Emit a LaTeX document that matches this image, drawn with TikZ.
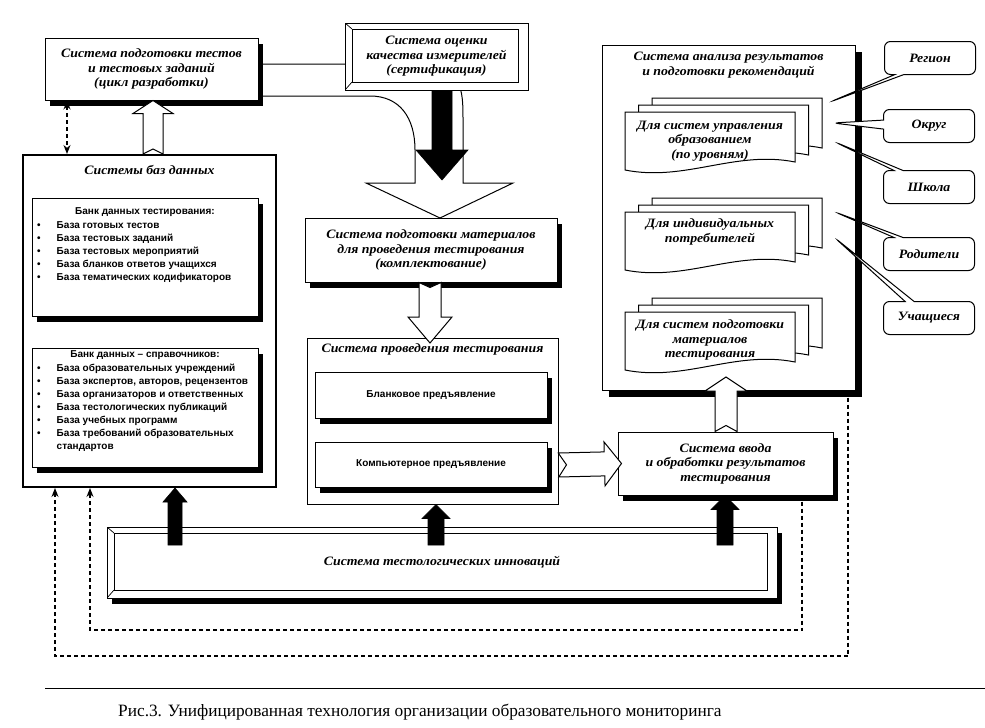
\documentclass[tikz,border=0pt]{standalone}
\usepackage{fontspec}
\setmainfont{Liberation Serif}
\newfontfamily\lblfont[FakeStretch=1.08]{Liberation Serif}
\newfontfamily\sansf{Liberation Sans}
\usetikzlibrary{calc,shadows,shapes.callouts,arrows.meta,backgrounds}

\newcommand{\lbl}{\lblfont\bfseries\itshape\fontsize{12.8}{14.5}\selectfont}
\newcommand{\lst}{\sansf\bfseries\fontsize{10}{13}\selectfont}
% block arrow: [style]{tail}{tip}{half shaft}{half head}{head length}{notch}
\newcommand{\barr}[7][]{%
  \path ($(#3)!#6!(#2)$) coordinate (hb) ($(#2)!#7!(#3)$) coordinate (nt);
  \draw[#1] ($(#2)!#4!90:(#3)$) -- ($(hb)!#4!90:(#3)$) -- ($(hb)!#5!90:(#3)$) -- (#3)
    -- ($(hb)!#5!-90:(#3)$) -- ($(hb)!#4!-90:(#3)$) -- ($(#2)!#4!-90:(#3)$) -- (nt) -- cycle;}

\tikzset{
  box/.style={draw, fill=white, line width=1pt, inner sep=0pt, align=center, font=\lbl},
  ttl/.style={inner sep=0pt, align=center, font=\lbl},
  shad/.style={drop shadow={shadow xshift=5pt, shadow yshift=-6pt, opacity=1, fill=black}},
  bevel/.style={path picture={
    \fill ([xshift=-10pt,yshift=-6pt]path picture bounding box.north east) -- (path picture bounding box.north east)
      -- (path picture bounding box.south east) -- ([xshift=-10pt,yshift=8pt]path picture bounding box.south east) -- cycle;
    \draw[line width=.7pt] ([xshift=7pt,yshift=-6pt]path picture bounding box.north west) rectangle ([xshift=-10pt,yshift=8pt]path picture bounding box.south east);
    \draw[line width=.7pt] (path picture bounding box.north west) -- ++(7pt,-6pt)
      (path picture bounding box.south west) -- ++(7pt,8pt);}},
  harrow/.style={draw, fill=white, line width=1pt},
  karrow/.style={draw, fill=black, line width=.6pt},
  dsh/.style={line width=1.3pt, dash pattern=on 4pt off 3pt},
  call/.style={rectangle callout, draw, fill=white, line width=1pt, rounded corners=6pt,
    minimum width=91pt, minimum height=33pt, font=\lbl, callout pointer width=9pt},
  docstack/.pic={
    \foreach \d in {2,1,0}
      \draw[fill=white, line width=1pt, shift={(13.5*\d,-7*\d)}] (0,0) -- (170,0) -- (170,50)
        .. controls (110,38) and (60,70) .. (0,58) -- cycle;}
}

\begin{document}
\begin{tikzpicture}[x=1pt,y=-1pt]
\useasboundingbox (0,0) rectangle (985,728);

% top row
\node[box, shad, minimum width=213pt, minimum height=62pt] (razrab) at (151.5,69) {Система подготовки тестов\\и тестовых заданий\\(цикл разработки)};
\node[box, bevel, minimum width=183pt, minimum height=67pt] (ocenka) at (436.5,56.5) {Система оценки\\качества измерителей\\(сертификация)};
\begin{scope}[on background layer]
\draw[harrow] ([yshift=5pt]razrab.east) -- (415,64) .. controls (463,64) and (463,90) .. (463,120) -- (463,183)
  -- (513,183) -- (440,218) -- (366,183) -- (415,183) -- (415,150) .. controls (415,118) and (400,96) .. (370,96)
  -- (razrab.east |- 0,96) -- cycle;
\end{scope}
\coordinate (k0t) at (ocenka.south -| 442,0);
\coordinate (k0p) at (442,180);
\barr[karrow]{k0t}{k0p}{10pt}{26pt}{30pt}{0pt}

% databases
\node[box, line width=2pt, minimum width=253pt, minimum height=332pt] (bazy) at (149.5,321) {};
\node[ttl] at (bazy.north |- 0,170) {Системы баз данных};
\node[box, shad, minimum width=226pt, minimum height=118pt] (bank1) at (145,257) {};
\node[font=\lst, inner sep=0pt] at (bank1.north |- 0,212) {Банк данных тестирования:};
\node[font=\lst, anchor=north west, inner sep=0pt] (spis1) at (37,219) {\begin{tabular}{@{}l@{\hspace{16pt}}l@{}}
 \textbullet & База готовых тестов\\
 \textbullet & База тестовых заданий\\
 \textbullet & База тестовых мероприятий\\
 \textbullet & База бланков ответов учащихся\\
 \textbullet & База тематических кодификаторов
\end{tabular}};
\node[box, shad, minimum width=226pt, minimum height=119pt] (bank2) at (145,407.5) {};
\node[font=\lst, inner sep=0pt] at (bank2.north |- 0,355) {Банк данных – справочников:};
\node[font=\lst, anchor=north west, inner sep=0pt] (spis2) at (37,362) {\begin{tabular}{@{}l@{\hspace{16pt}}l@{}}
 \textbullet & База образовательных учреждений\\
 \textbullet & База экспертов, авторов, рецензентов\\
 \textbullet & База организаторов и ответственных\\
 \textbullet & База тестологических публикаций\\
 \textbullet & База учебных программ\\
 \textbullet & База требований образовательных\\
  & стандартов
\end{tabular}};
\coordinate (h1t) at (bazy.north -| 153,0);
\coordinate (h1p) at (razrab.south -| 153,0);
\barr[harrow]{h1t}{h1p}{10pt}{20pt}{13pt}{5pt}
\draw[dsh, {Stealth[length=9pt,width=7pt]}-{Stealth[length=9pt,width=7pt]}] (razrab.south -| 67,0) -- (bazy.north -| 67,0);

% middle column
\node[box, shad, minimum width=252pt, minimum height=64pt] (komplekt) at (431,250) {Система подготовки материалов\\для проведения тестирования\\(комплектование)};
\node[box, minimum width=251pt, minimum height=166pt] (proved) at (432.5,421) {};
\node[ttl] at (proved.north |- 0,349) {Система проведения тестирования};
\node[box, shad, font=\lst, minimum width=232pt, minimum height=46pt] (blank) at (431,395) {Бланковое предъявление};
\node[box, shad, font=\lst, minimum width=232pt, minimum height=45pt] (komp) at (431,464.5) {Компьютерное предъявление};
\coordinate (h2t) at (komplekt.south -| 430,0);
\coordinate (h2p) at (430,343);
\barr[harrow]{h2t}{h2p}{11pt}{22pt}{26pt}{5pt}

% right column
\node[box, shad, minimum width=215pt, minimum height=63pt] (vvod) at (725.5,463.5) {Система ввода\\и обработки результатов\\тестирования};
\coordinate (h3t) at (proved.east |- 0,465);
\coordinate (h3p) at ([xshift=4pt]vvod.west);
\barr[harrow]{h3t}{h3p}{12pt}{22pt}{17pt}{8pt}
\node[box, drop shadow={shadow xshift=7pt, shadow yshift=-7pt, opacity=1, fill=black}, minimum width=253pt, minimum height=345pt] (analiz) at (728.5,217.5) {};
\node[ttl] at (analiz.north |- 0,65) {Система анализа результатов\\и подготовки рекомендаций};
\pic at (625,112) {docstack};
\pic at (625,212) {docstack};
\pic at (625,312) {docstack};
\node[ttl] (upr) at (710,141) {Для систем управления\\образованием\\(по уровням)};
\node[ttl] (indiv) at (710,232) {Для индивидуальных\\потребителей};
\node[ttl] (podg) at (710,340) {Для систем подготовки\\материалов\\тестирования};
\coordinate (h4t) at (vvod.north -| 726,0);
\coordinate (h4p) at (726,377);
\barr[harrow]{h4t}{h4p}{11pt}{21pt}{14pt}{6pt}

% consumers
\coordinate (tReg) at (830,102);
\coordinate (tOkr) at (833,123);
\coordinate (tShk) at (835,142);
\coordinate (tRod) at (835,212);
\coordinate (tUch) at (835,238);
\node[call, callout absolute pointer={(tReg)}] (reg) at (930,58) {Регион};
\node[call, callout absolute pointer={(tOkr)}] (okr) at (929,126) {Округ};
\node[call, callout absolute pointer={(tShk)}] (shk) at (929,187) {Школа};
\node[call, callout absolute pointer={(tRod)}] (rod) at (929,254) {Родители};
\node[call, callout absolute pointer={(tUch)}] (uch) at (929,318) {Учащиеся};

% innovations
\node[box, bevel, shad, minimum width=670pt, minimum height=71pt] (innov) at (442,562.5) {Система тестологических инноваций};
\coordinate (k1t) at (175,545);
\coordinate (k1p) at (bazy.south -| 175,0);
\coordinate (k2t) at (436,545);
\coordinate (k2p) at (proved.south -| 436,0);
\coordinate (k3t) at (725,545);
\coordinate (k3p) at (vvod.south -| 725,0);
\barr[karrow]{k1t}{k1p}{7pt}{12pt}{14pt}{0pt}
\barr[karrow]{k2t}{k2p}{8pt}{14pt}{14pt}{0pt}
\barr[karrow]{k3t}{k3p}{8pt}{14pt}{14pt}{0pt}

% feedback loops
\draw[dsh, -{Stealth[length=9pt,width=7pt]}] ([yshift=-6pt]vvod.south -| 802,0) -- (802,630) -- (90,630) -- (bazy.south -| 90,0);
\draw[dsh, -{Stealth[length=9pt,width=7pt]}] ([yshift=-7pt]analiz.south -| 848,0) -- (848,656) -- (55,656) -- (bazy.south -| 55,0);

% caption
\draw[line width=.8pt] (45,688) -- (985,688);
\node[anchor=base west, inner sep=0pt, font=\fontsize{17.3}{19}\selectfont] (capt) at (118,716) {Рис.3. Унифицированная технология организации образовательного мониторинга};
\end{tikzpicture}
\end{document}
